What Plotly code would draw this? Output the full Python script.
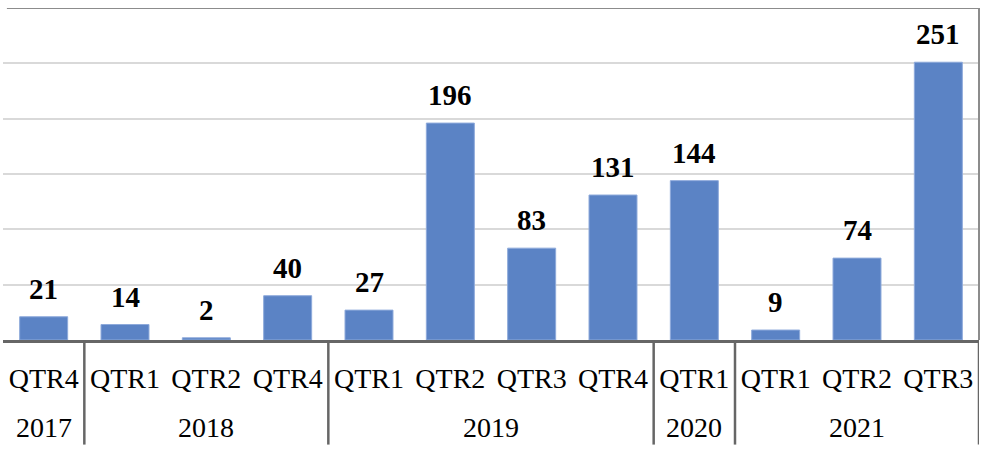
import plotly.graph_objects as go

quarters = ["QTR4", "QTR1", "QTR2", "QTR4", "QTR1", "QTR2", "QTR3", "QTR4", "QTR1", "QTR1", "QTR2", "QTR3"]
years = ["2017", "2018", "2018", "2018", "2019", "2019", "2019", "2019", "2020", "2021", "2021", "2021"]
values = [21, 14, 2, 40, 27, 196, 83, 131, 144, 9, 74, 251]

idx = list(range(len(values)))
FONT = "Liberation Serif, Times New Roman, serif"
LINE = "#666666"

fig = go.Figure()
fig.add_trace(go.Bar(
    x=idx, y=values, width=0.59,
    marker=dict(color="#5b83c5", line=dict(color="#8eaadb", width=1)),
    hoverinfo="skip",
))

annotations = []
for i, v in zip(idx, values):
    annotations.append(dict(
        x=i, y=v, xref="x", yref="y", text=f"<b>{v}</b>", showarrow=False,
        yanchor="bottom", yshift=10, font=dict(family=FONT, size=29, color="black"),
    ))

# year groups
groups = []
for i, y in enumerate(years):
    if groups and groups[-1][0] == y:
        groups[-1][2] = i
    else:
        groups.append([y, i, i])

shapes = []
for y, a, b in groups:
    annotations.append(dict(
        x=(a + b) / 2, y=-0.265, xref="x", yref="paper", text=y, showarrow=False,
        yanchor="middle", font=dict(family=FONT, size=28, color="black"),
    ))
    shapes.append(dict(type="line", xref="x", yref="paper", x0=b + 0.5, x1=b + 0.5,
                       y0=0, y1=-0.315, line=dict(color=LINE, width=2.5)))

# plot border (top and right)
shapes.append(dict(type="line", xref="paper", yref="y", x0=0.004, x1=1, y0=300, y1=300,
                   line=dict(color="#8c8c8c", width=2)))
shapes.append(dict(type="line", xref="paper", yref="paper", x0=1, x1=1, y0=0, y1=1,
                   line=dict(color="#8c8c8c", width=2)))

fig.update_layout(
    width=983, height=457,
    margin=dict(l=3, r=4, t=8, b=117),
    plot_bgcolor="white", paper_bgcolor="white",
    showlegend=False,
    font=dict(family=FONT),
    annotations=annotations, shapes=shapes,
    xaxis=dict(
        range=[-0.5, 11.5], tickvals=idx, ticktext=quarters,
        showline=True, linecolor=LINE, linewidth=2.5,
        ticks="outside", ticklen=12, tickcolor="rgba(0,0,0,0)",
        tickfont=dict(family=FONT, size=28, color="black"),
        showgrid=False, zeroline=False, fixedrange=True,
    ),
    yaxis=dict(
        range=[0, 300], dtick=50, showticklabels=False,
        showgrid=True, gridcolor="#d9d9d9", gridwidth=1.5,
        zeroline=False, showline=False, fixedrange=True,
    ),
)

fig.write_html("out.html", config=dict(displayModeBar=False),
               post_script="document.body.style.margin='0';document.body.style.overflow='hidden';")
